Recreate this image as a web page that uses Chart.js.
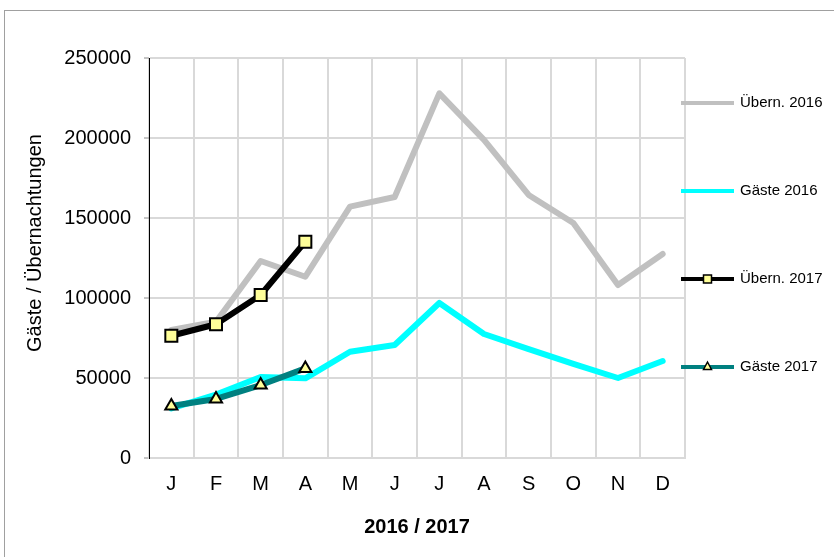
<!DOCTYPE html>
<html>
<head>
<meta charset="utf-8">
<script src="https://cdn.jsdelivr.net/npm/chart.js@4.4.1/dist/chart.umd.min.js"></script>
<style>
  html, body { margin: 0; padding: 0; background: #fff; }
  #wrap { width: 834px; height: 557px; }
</style>
</head>
<body>
<div id="wrap"><canvas id="c" width="834" height="557"></canvas></div>
<script>
// ---- data ----
const months = ['J', 'F', 'M', 'A', 'M', 'J', 'J', 'A', 'S', 'O', 'N', 'D'];
const uebern2016 = [80000, 85200, 123100, 113300, 157100, 163100, 227900, 198800, 164400, 146900, 108100, 127500];
const gaeste2016 = [31000, 39600, 50600, 49800, 66400, 70600, 96900, 77500, 68100, 58800, 50000, 60600];
const uebern2017 = [76400, 83600, 101900, 135200];
const gaeste2017 = [32500, 36900, 45600, 56000];
const seriesNames = ['Übern. 2016', 'Gäste 2016', 'Übern. 2017', 'Gäste 2017'];
const yTitle = 'Gäste / Übernachtungen';
const xTitle = '2016 / 2017';

const FONT = "'Liberation Sans', Arial, sans-serif";
const YELLOW = '#ffff99';

const datasets = [
  { label: seriesNames[3], data: gaeste2017, borderColor: '#008080', backgroundColor: '#008080',
    borderWidth: 6, pointStyle: 'triangle', pointRadius: 7, pointBorderWidth: 2,
    pointBackgroundColor: YELLOW, pointBorderColor: '#000', legendMarker: 'triangle' },
  { label: seriesNames[2], data: uebern2017, borderColor: '#000000', backgroundColor: '#000',
    borderWidth: 6, pointStyle: 'rect', pointRadius: 8.5, pointBorderWidth: 2,
    pointBackgroundColor: YELLOW, pointBorderColor: '#000', legendMarker: 'rect' },
  { label: seriesNames[1], data: gaeste2016, borderColor: '#00ffff', backgroundColor: '#00ffff',
    borderWidth: 6, pointRadius: 0, legendMarker: null },
  { label: seriesNames[0], data: uebern2016, borderColor: '#c0c0c0', backgroundColor: '#c0c0c0',
    borderWidth: 6, pointRadius: 0, legendMarker: null }
];
datasets.forEach(d => { d.tension = 0; d.borderCapStyle = 'round'; d.borderJoinStyle = 'round'; d.fill = false; });

const frame = {
  id: 'frame',
  beforeDraw(chart) {
    const ctx = chart.ctx;
    ctx.save();
    ctx.fillStyle = '#fff';
    ctx.fillRect(0, 0, chart.width, chart.height);
    ctx.strokeStyle = '#a0a0a0';
    ctx.lineWidth = 1;
    ctx.strokeRect(4.5, 10.5, chart.width, chart.height);
    ctx.restore();
  },
  afterDraw(chart) {
    const ctx = chart.ctx;
    const a = chart.chartArea;
    ctx.save();
    // axis titles
    ctx.fillStyle = '#000';
    ctx.font = "20px " + FONT;
    ctx.textAlign = 'center';
    ctx.textBaseline = 'middle';
    ctx.translate(35, 243);
    ctx.rotate(-Math.PI / 2);
    ctx.fillText(yTitle, 0, 0);
    ctx.setTransform(1, 0, 0, 1, 0, 0);
    ctx.font = "bold 20px " + FONT;
    ctx.fillText(xTitle, (a.left + a.right) / 2, 527);
    // legend
    const order = [3, 2, 1, 0];
    const ys = [103, 191, 279, 367];
    const x0 = 681, x1 = 734;
    ctx.font = "15px " + FONT;
    ctx.textAlign = 'left';
    order.forEach((di, i) => {
      const ds = chart.data.datasets[di];
      const y = ys[i];
      ctx.strokeStyle = ds.borderColor;
      ctx.lineWidth = 4;
      ctx.lineCap = 'butt';
      ctx.beginPath(); ctx.moveTo(x0, y); ctx.lineTo(x1, y); ctx.stroke();
      const mx = (x0 + x1) / 2;
      if (ds.legendMarker) {
        ctx.fillStyle = ds.pointBackgroundColor;
        ctx.strokeStyle = ds.pointBorderColor;
        ctx.lineWidth = 1.5;
        ctx.beginPath();
        if (ds.legendMarker === 'rect') {
          ctx.rect(mx - 4, y - 4, 8, 8);
        } else {
          ctx.moveTo(mx, y - 5); ctx.lineTo(mx + 4, y + 2.5); ctx.lineTo(mx - 4, y + 2.5); ctx.closePath();
        }
        ctx.fill(); ctx.stroke();
      }
      ctx.fillStyle = '#000';
      ctx.fillText(ds.label, 740, y);
    });
    ctx.restore();
  }
};

new Chart(document.getElementById('c'), {
  type: 'line',
  data: { labels: months, datasets },
  options: {
    responsive: false,
    devicePixelRatio: 1,
    animation: false,
    layout: { padding: { top: 58, right: 149, left: 0, bottom: 0 } },
    plugins: { legend: { display: false }, title: { display: false }, tooltip: { enabled: false } },
    scales: {
      x: {
        offset: true,
        grid: { color: '#d9d9d9', lineWidth: 2, drawTicks: false, offset: true },
        border: { color: '#d9d9d9', width: 2 },
        ticks: { color: '#000', font: { family: FONT, size: 20 }, padding: 14, maxRotation: 0, autoSkip: false },
        afterFit(s) { s.height = 99; }
      },
      y: {
        min: 0, max: 250000,
        ticks: { stepSize: 50000, color: '#000', font: { family: FONT, size: 20 }, padding: 13,
                 callback: v => String(v) },
        grid: { color: '#d9d9d9', lineWidth: 2, tickLength: 5, tickColor: '#888', tickWidth: 1 },
        border: { color: '#000', width: 1 },
        afterFit(s) { s.width = 149; }
      }
    }
  },
  plugins: [frame]
});
</script>
</body>
</html>
